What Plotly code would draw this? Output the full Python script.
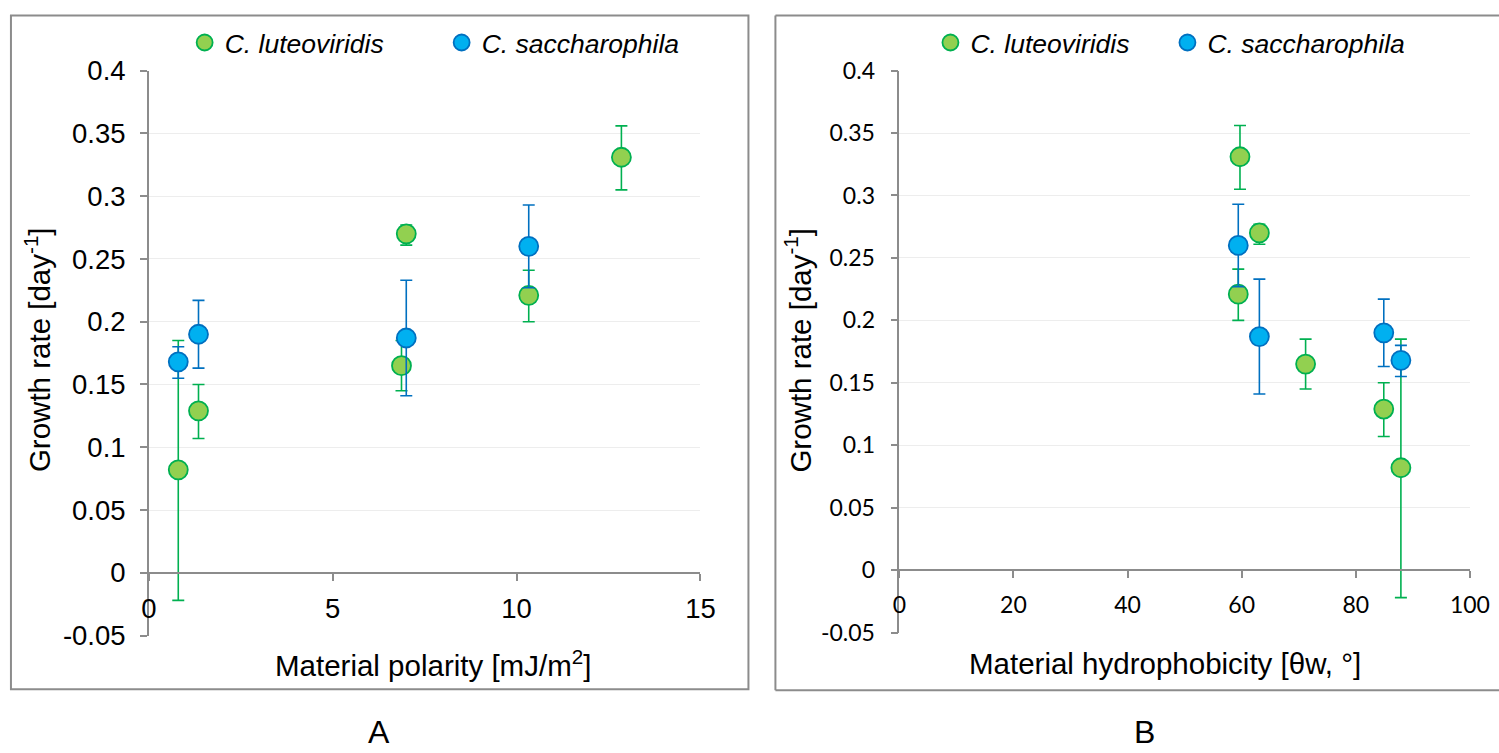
import plotly.graph_objects as go

W, H = 1499, 753

# ---------------- data ----------------
species = ["C. luteoviridis", "C. saccharophila"]

# C. luteoviridis
lut_polarity = [0.8, 1.35, 6.87, 7.0, 10.33, 12.85]
lut_hydro = [87.9, 84.9, 71.2, 63.1, 59.4, 59.7]
lut_rate = [0.082, 0.129, 0.165, 0.270, 0.221, 0.331]
lut_err_plus = [0.103, 0.021, 0.020, 0.007, 0.020, 0.025]
lut_err_minus = [0.104, 0.022, 0.020, 0.009, 0.021, 0.026]

# C. saccharophila
sac_polarity = [0.8, 1.35, 7.0, 10.33]
sac_hydro = [87.9, 84.9, 63.1, 59.4]
sac_rate = [0.168, 0.190, 0.187, 0.260]
sac_err_plus = [0.012, 0.027, 0.046, 0.033]
sac_err_minus = [0.013, 0.027, 0.046, 0.033]

y_tickvals = [-0.05, 0, 0.05, 0.1, 0.15, 0.2, 0.25, 0.3, 0.35, 0.4]
y_ticktext = ["-0.05", "0", "0.05", "0.1", "0.15", "0.2", "0.25", "0.3", "0.35", "0.4"]
xa_tickvals = [0, 5, 10, 15]
xb_tickvals = [0, 20, 40, 60, 80, 100]

# ---------------- styles ----------------
GREEN_FILL, GREEN_LINE = "#92D050", "#00B050"
BLUE_FILL, BLUE_LINE = "#00B0F0", "#0070C0"
AXIS = "#8C8C8C"
GRID = "#EDEDED"
ARIAL = "Liberation Sans, Arial, sans-serif"
CALIBRI = "Lato, Carlito, Calibri, sans-serif"

# target picture pixel -> layout pixel (the photographed page is slightly inset)
SX, OX, SY, OY = 0.982, 7.05, 0.964, 15.1


def px_x(p):
    return ((p - OX) / SX) / W


def px_y(p):
    return 1 - ((p - OY) / SY) / H


def trace(x, y, ep, em, fill, line, name, xa, ya, legend, showlegend=True):
    return go.Scatter(
        x=x, y=y, mode="markers", name="<i>" + name + "</i>",
        xaxis=xa, yaxis=ya, legend=legend, showlegend=showlegend,
        marker=dict(size=19, color=fill, line=dict(color=line, width=1.8)),
        error_y=dict(type="data", symmetric=False, array=ep, arrayminus=em,
                     color=line, thickness=1.6, width=6),
    )


fig = go.Figure()
fig.add_trace(trace(lut_polarity, lut_rate, lut_err_plus, lut_err_minus,
                    GREEN_FILL, GREEN_LINE, species[0], "x", "y", "legend"))
fig.add_trace(trace(sac_polarity, sac_rate, sac_err_plus, sac_err_minus,
                    BLUE_FILL, BLUE_LINE, species[1], "x", "y", "legend"))
fig.add_trace(trace(lut_hydro, lut_rate, lut_err_plus, lut_err_minus,
                    GREEN_FILL, GREEN_LINE, species[0], "x2", "y2", "legend2"))
fig.add_trace(trace(sac_hydro, sac_rate, sac_err_plus, sac_err_minus,
                    BLUE_FILL, BLUE_LINE, species[1], "x2", "y2", "legend2"))

# domains (pixel-derived)
ya_dom = [px_y(639), px_y(71)]
yb_dom = [px_y(636), px_y(71)]
xa_dom = [px_x(148), px_x(700)]
xb_dom = [px_x(899), px_x(1470)]
ya_range = [-0.05, 0.4]


def zero_pos(dom):
    return dom[0] + (0 - ya_range[0]) / (ya_range[1] - ya_range[0]) * (dom[1] - dom[0])


common_x = dict(showline=True, linecolor=AXIS, linewidth=1.5, ticks="outside",
                ticklen=7, tickcolor=AXIS, tickwidth=1.5, showgrid=False,
                zeroline=False, anchor="free", fixedrange=True)
common_y = dict(range=ya_range, tickvals=y_tickvals, ticktext=y_ticktext,
                showline=True, linecolor=AXIS, linewidth=1.5, ticks="outside",
                ticklen=7, tickcolor=AXIS, tickwidth=1.5, showgrid=True,
                gridcolor=GRID, gridwidth=1, zeroline=False, fixedrange=True)

fig.update_layout(
    width=W, height=H, autosize=False,
    margin=dict(l=0, r=0, t=0, b=0, pad=0),
    paper_bgcolor="white", plot_bgcolor="white",
    showlegend=True,
    xaxis=dict(domain=xa_dom, range=[0, 15], tickvals=xa_tickvals,
               position=zero_pos(ya_dom), ticklabelstandoff=4,
               tickfont=dict(family=ARIAL, size=27.5, color="black"), **common_x),
    yaxis=dict(domain=ya_dom, anchor="x", ticklabelstandoff=9,
               tickfont=dict(family=ARIAL, size=27.5, color="black"), **common_y),
    xaxis2=dict(domain=xb_dom, range=[0, 100], tickvals=xb_tickvals,
                position=zero_pos(yb_dom), ticklabelstandoff=8,
                tickfont=dict(family=CALIBRI, size=23, color="black"), **common_x),
    yaxis2=dict(domain=yb_dom, anchor="x2", ticklabelstandoff=11,
                tickfont=dict(family=CALIBRI, size=23, color="black"), **common_y),
    legend=dict(orientation="h", x=180 / W, xanchor="left", y=px_y(43),
                yanchor="middle", bgcolor="rgba(0,0,0,0)",
                font=dict(family=ARIAL, size=26.5, color="black"),
                entrywidth=212, entrywidthmode="pixels", itemclick=False),
    legend2=dict(orientation="h", x=940 / W, xanchor="left", y=px_y(43),
                 yanchor="middle", bgcolor="rgba(0,0,0,0)",
                 font=dict(family=ARIAL, size=26.5, color="black"),
                 entrywidth=192, entrywidthmode="pixels", itemclick=False),
)

# panel borders (panel B continues past the right edge of the picture)
top = 1 - 0.5 / H
bx = dict(xref="paper", yref="paper", line=dict(color=AXIS, width=2), layer="below")
fig.add_shape(type="rect", x0=px_x(10), x1=px_x(748), y0=px_y(693), y1=top,
              fillcolor="rgba(0,0,0,0)", **bx)
fig.add_shape(type="line", x0=px_x(775), x1=px_x(1512), y0=top, y1=top, **bx)
fig.add_shape(type="line", x0=px_x(775), x1=px_x(1512), y0=px_y(694), y1=px_y(694), **bx)
fig.add_shape(type="line", x0=px_x(775), x1=px_x(775), y0=top, y1=px_y(694), **bx)

# axis titles and panel labels
ann_font = dict(family=ARIAL, size=29.5, color="black")
annotations = [
    dict(text="Material polarity [mJ/m<sup>2</sup>]", x=px_x(432), y=px_y(667)),
    dict(text="Material hydrophobicity [θw, °]", x=px_x(1165), y=px_y(667)),
    dict(text="Growth rate [day<sup>-1</sup>]", x=30 / W, y=1 - 349 / H, textangle=-90),
    dict(text="Growth rate [day<sup>-1</sup>]", x=805 / W, y=1 - 349 / H, textangle=-90),
]
for a in annotations:
    fig.add_annotation(xref="paper", yref="paper", showarrow=False,
                       xanchor="center", yanchor="middle", font=ann_font, **a)
for lab, xc in (("A", 378.5), ("B", 1144)):
    fig.add_annotation(xref="paper", yref="paper", showarrow=False, text=lab,
                       x=px_x(xc), y=px_y(736), xanchor="center", yanchor="middle",
                       borderpad=0, font=dict(family=ARIAL, size=32, color="black"))

fig.write_html("out.html", config={"responsive": False, "displayModeBar": False})
